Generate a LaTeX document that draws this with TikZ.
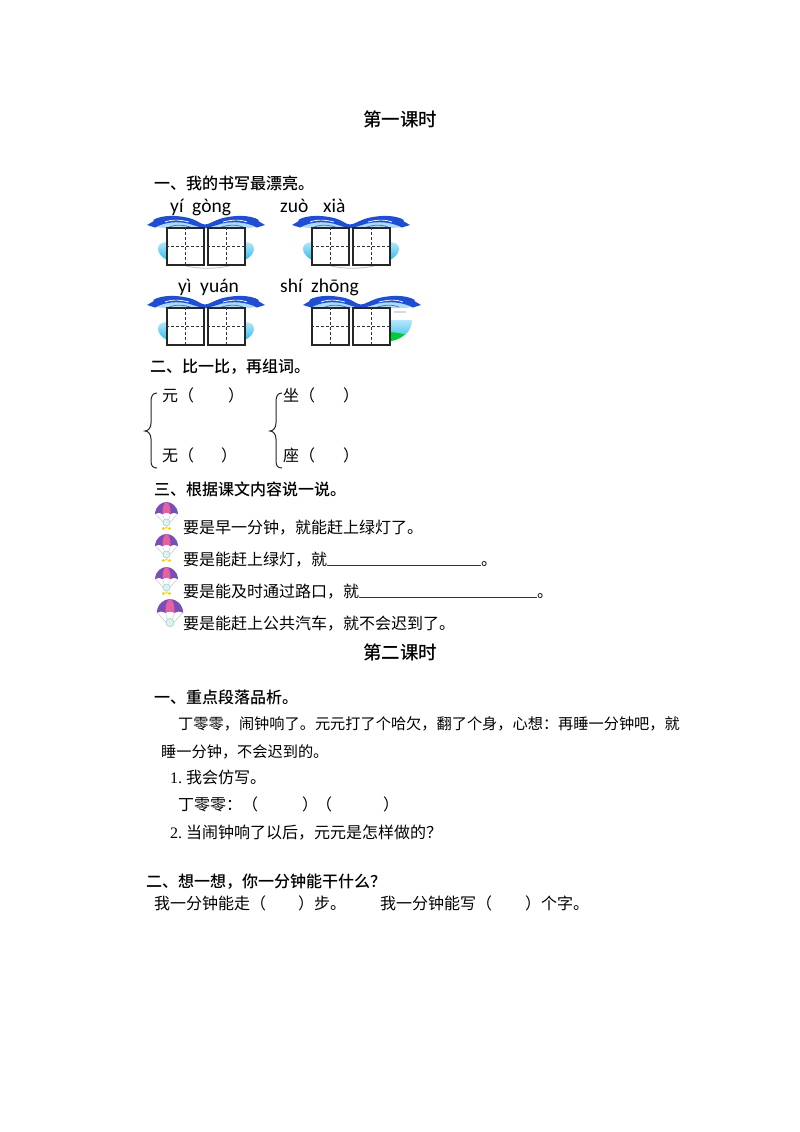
\documentclass[tikz,border=0pt]{standalone}
\usepackage{fontspec}
\setmainfont[BoldFont={Noto Sans CJK SC Medium}]{Noto Sans CJK SC}
\newfontfamily\pyfont{Carlito}
\newfontfamily\numfont{Liberation Serif}
\definecolor{wavedark}{HTML}{1F4FD0}
\definecolor{wavelight}{HTML}{8CCBF2}
\definecolor{dropcyan}{HTML}{2FBCEC}
\definecolor{canopyviolet}{HTML}{7A4FB5}
\definecolor{canopypink}{HTML}{E8609F}
\tikzset{
  body/.style={anchor=base west,inner sep=0pt,font=\fontsize{16}{18}\selectfont},
  songline/.style={anchor=base west,inner sep=0pt,font=\fontsize{15.2}{18}\selectfont},
  head/.style={anchor=base west,inner sep=0pt,font=\fontsize{16}{18}\selectfont\bfseries},
  lesson/.style={anchor=center,inner sep=0pt,font=\fontsize{18.5}{20}\selectfont\bfseries},
  pinyin/.style={anchor=base west,inner sep=0pt,font=\fontsize{19.5}{22}\selectfont\pyfont},
  tianbox/.style={draw=black!85,line width=1.3pt,fill=white,minimum width=37pt,minimum height=37pt,inner sep=0pt},
  tiandash/.style={black!80,line width=0.7pt,dash pattern=on 3pt off 2pt},
  sidedrop/.style={top color=dropcyan!35,bottom color=dropcyan,draw=none},
  blankline/.style={line width=0.9pt,black!80},
  bracemark/.style={line width=1pt,black!85},
  pics/wavebar/.style={code={
    % light band under the crest
    \fill[wavelight!70] (8,11) .. controls (20,4) and (30,4) .. (42,7) .. controls (50,9) and (54,13) .. (58,13)
      .. controls (62,13) and (68,9) .. (76,7) .. controls (88,4) and (100,4) .. (110,11) -- (100,12) -- (18,12) -- cycle;
    \fill[wavedark] (0,9) -- (6,5.5) -- (7,3.5) .. controls (15,-1) and (30,-1) .. (42,2) .. controls (50,4) and (54,8.5) .. (58,8.5)
      .. controls (62,8.5) and (68,4) .. (76,2) .. controls (88,-1) and (103,-1) .. (111,3.5) -- (112,5.5) -- (118,9) -- (110,11.5)
      .. controls (100,6) and (86,5) .. (75,7.5) .. controls (68,9.5) and (62,12) .. (58,12)
      .. controls (54,12) and (48,9.5) .. (41,7.5) .. controls (30,5) and (18,6) .. (8,11.5) -- cycle;
    \draw[white,line width=0.7pt] (18,6) .. controls (26,3) and (34,4) .. (42,6);
    \draw[white,line width=0.7pt] (76,6) .. controls (84,4) and (92,3) .. (100,6);
    \draw[wavedark!80,line width=0.8pt] (22,11) .. controls (30,8) and (38,9) .. (46,12);
    \draw[wavedark!80,line width=0.8pt] (72,12) .. controls (80,9) and (88,8) .. (96,11);
  }},
  pics/sidedrops/.style={code={
    \shade[sidedrop] (20,26) .. controls (8,26) and (8,38) .. (20,44) -- cycle;
    \shade[sidedrop] (98,26) .. controls (110,26) and (110,38) .. (98,44) -- cycle;
  }},
  pics/parachute/.style={code={
    \draw[black!25,line width=0.4pt] (-11,12) -- (0,24) -- (11,12) (-4,12) -- (0,24) -- (4,12);
    \fill[canopyviolet] (-11.5,12) .. controls (-11,4) and (-5,0) .. (0,0) .. controls (5,0) and (11,4) .. (11.5,12)
      .. controls (9,10.5) and (6,10.5) .. (4,12) .. controls (2,10.5) and (-2,10.5) .. (-4,12)
      .. controls (-6,10.5) and (-9,10.5) .. (-11.5,12) -- cycle;
    \fill[canopypink] (0,0) .. controls (-3,1) and (-4,6) .. (-4,12) .. controls (-2,10.5) and (2,10.5) .. (4,12)
      .. controls (4,6) and (3,1) .. (0,0) -- cycle;
    \draw[teal!45,fill=teal!12,line width=0.4pt] (0,20.5) circle (3.6);
  }},
  pics/parafeet/.style={code={
    \fill[yellow!70!orange] (-3,26.5) circle (1.7) (3,26.5) circle (1.7) (0,25.5) circle (1.2);
  }},
  pics/bigbrace/.style={code={
    \draw[bracemark] (12,0) .. controls (8,0) and (6,3) .. (6,8) -- (6,30) .. controls (6,35) and (3,38) .. (0,38)
      .. controls (3,38) and (6,41) .. (6,46) -- (6,68) .. controls (6,73) and (8,75) .. (12,75);
  }}
}

\begin{document}
\begin{tikzpicture}[x=1pt,y=-1pt]
\useasboundingbox (0,0) rectangle (800,1132);
\fill[white] (0,0) rectangle (800,1132);

\node[lesson] (lessonA) at (400,119) {第一课时};
\node[head] (headA) at (154,189) {一、我的书写最漂亮。};

% pinyin
\node[pinyin] (pyA) at (170,212) {yí};
\node[pinyin] (pyB) at (192,212) {gòng};
\node[pinyin] (pyC) at (280,212) {zuò};
\node[pinyin] (pyD) at (323,212) {xià};
\node[pinyin] (pyE) at (178,292) {yì};
\node[pinyin] (pyF) at (200,292) {yuán};
\node[pinyin] (pyG) at (280,292) {shí};
\node[pinyin] (pyH) at (311,292) {zhōng};

% waves behind the writing boxes
\pic at (147,216) {wavebar};
\pic at (292,216) {wavebar};
\pic at (147,296) {wavebar};
\pic at (303,296) {wavebar};
\pic at (147,216) {sidedrops};
\pic at (292,216) {sidedrops};
\pic at (147,296) {sidedrops};
\shade[sidedrop] (388,320) -- (412,320) .. controls (412,332) and (402,340) .. (388,341) -- cycle;
\fill[green!60!teal] (391,341) .. controls (398,340) and (402,337) .. (405,334) -- (391,332) -- cycle;
\draw[black!15,line width=1.5pt] (394,312) -- (406,312);
\draw[black!25,line width=0.8pt] (186,266) .. controls (200,269) and (215,269) .. (229,266);
\draw[black!25,line width=0.8pt] (331,266) .. controls (345,269) and (360,269) .. (374,266);

\foreach \boxname/\cx/\cy in {a/185.5/246.5,b/226.5/246.5,c/330.5/246.5,d/371.5/246.5,
                              e/185.5/326.5,f/226.5/326.5,g/330.5/326.5,h/371.5/326.5} {
  \node[tianbox] (\boxname) at (\cx,\cy) {};
  \draw[tiandash] (\boxname.north) -- (\boxname.south);
  \draw[tiandash] (\boxname.west) -- (\boxname.east);
}

\node[head] (headB) at (150,372) {二、比一比，再组词。};
\pic at (145,393) {bigbrace};
\pic at (270,393) {bigbrace};
\node[body] (yuan) at (162,401) {元（\hspace{34pt}）};
\node[body] (wu) at (162,461) {无（\hspace{27pt}）};
\node[body] (zuo) at (283,401) {坐（\hspace{28pt}）};
\node[body] (zuob) at (283,461) {座（\hspace{28pt}）};

\node[head] (headC) at (154,495) {三、根据课文内容说一说。};
\pic at (166.5,502) {parachute};
\pic at (166.5,502) {parafeet};
\pic at (166.5,534) {parachute};
\pic at (166.5,534) {parafeet};
\pic at (166.5,567) {parachute};
\pic at (166.5,567) {parafeet};
\pic[scale=1.15] at (170,599) {parachute};
\node[body] (sayA) at (183,533) {要是早一分钟，就能赶上绿灯了。};
\node[body] (sayB) at (183,565) {要是能赶上绿灯，就};
\node[body] (sayBend) at (481,565) {。};
\node[body] (sayC) at (183,597) {要是能及时通过路口，就};
\node[body] (sayCend) at (537,597) {。};
\node[body] (sayD) at (183,629) {要是能赶上公共汽车，就不会迟到了。};
\draw[blankline] (sayB.base east) -- (sayBend.base west);
\draw[blankline] (sayC.base east) -- (sayCend.base west);

\node[lesson] (lessonB) at (400,652) {第二课时};
\node[head] (headD) at (154,703) {一、重点段落品析。};
\node[songline] (paraA) at (178,729) {丁零零，闹钟响了。元元打了个哈欠，翻了个身，心想：再睡一分钟吧，就};
\node[songline] (paraB) at (161,757) {睡一分钟，不会迟到的。};
\node[body] (subA) at (170,783) {{\numfont 1.}\hspace{4pt}我会仿写。};
\node[body] (copyA) at (178,810) {丁零零：（\hspace{44pt}）\hspace{-2pt}（\hspace{51pt}）};
\node[body] (subB) at (170,838) {{\numfont 2.}\hspace{4pt}当闹钟响了以后，元元是怎样做的？};
\node[head] (headE) at (146,887) {二、想一想，你一分钟能干什么？};
\node[body] (lastA) at (154,909) {我一分钟能走（\hspace{32pt}）步。};
\node[body] (lastB) at (380,909) {我一分钟能写（\hspace{33pt}）个字。};
\end{tikzpicture}
\end{document}
